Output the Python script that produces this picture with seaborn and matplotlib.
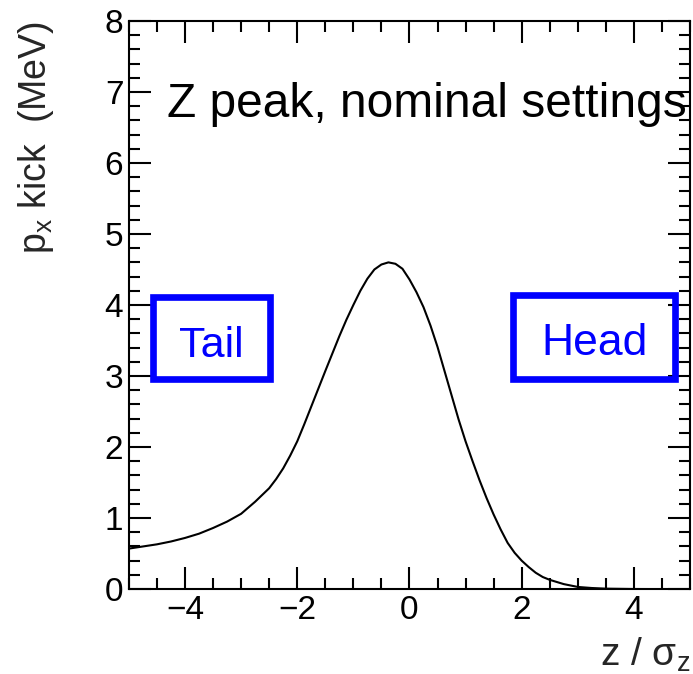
import numpy as np
import pandas as pd
import matplotlib
matplotlib.use("Agg")
import matplotlib.pyplot as plt
from matplotlib.patches import Rectangle
from matplotlib.ticker import MultipleLocator
import seaborn as sns

# values
z_sigma = [-5.0, -4.75, -4.5, -4.25, -4.0, -3.75, -3.5, -3.25, -3.0, -2.75,
           -2.5, -2.375, -2.25, -2.125, -2.0, -1.875, -1.75, -1.5, -1.25, -1.125,
           -1.0, -0.875, -0.75, -0.625, -0.5, -0.375, -0.25, -0.125, 0.0, 0.125,
           0.25, 0.375, 0.5, 0.625, 0.75, 0.875, 1.0, 1.125, 1.25, 1.375,
           1.5, 1.625, 1.75, 1.875, 2.0, 2.125, 2.25, 2.375, 2.5, 2.75,
           3.0, 3.25, 3.5, 4.0, 4.5, 5.0]
px_kick = [0.57, 0.60, 0.63, 0.67, 0.72, 0.78, 0.86, 0.95, 1.06, 1.23,
           1.42, 1.55, 1.70, 1.88, 2.08, 2.32, 2.57, 3.07, 3.56, 3.79,
           4.00, 4.20, 4.37, 4.50, 4.57, 4.60, 4.58, 4.51, 4.36, 4.18,
           3.97, 3.71, 3.41, 3.07, 2.73, 2.39, 2.08, 1.80, 1.53, 1.28,
           1.05, 0.84, 0.65, 0.51, 0.40, 0.31, 0.23, 0.17, 0.13, 0.07,
           0.03, 0.015, 0.006, 0.001, 0.0, 0.0]

xlim = (-5, 5)
ylim = (0, 8)

df = pd.DataFrame({"z": z_sigma, "kick": px_kick})

sns.set_theme(style="ticks")
plt.rcParams["font.family"] = ["Liberation Sans", "DejaVu Sans"]
plt.rcParams["mathtext.fontset"] = "custom"
plt.rcParams["mathtext.rm"] = "Liberation Sans"
plt.rcParams["mathtext.default"] = "regular"

fig = plt.figure(figsize=(6.93, 6.74), dpi=100)
ax = fig.add_axes([0.186, 0.126, 0.8097, 0.843])

sns.lineplot(data=df, x="z", y="kick", color="black", linewidth=1.5, ax=ax)

ax.set_xlim(*xlim)
ax.set_ylim(*ylim)
ax.xaxis.set_major_locator(MultipleLocator(2))
ax.xaxis.set_minor_locator(MultipleLocator(0.5))
ax.yaxis.set_major_locator(MultipleLocator(1))
ax.yaxis.set_minor_locator(MultipleLocator(0.2))

for s in ax.spines.values():
    s.set_visible(True)
    s.set_linewidth(1.5)
    s.set_color("black")

ax.tick_params(which="both", direction="in", top=True, right=True,
               width=1.5, color="black", labelsize=24, labelcolor="black")
ax.tick_params(which="major", length=16)
ax.tick_params(which="minor", length=8)
ax.tick_params(axis="y", pad=4)
ax.tick_params(axis="x", pad=4)

ax.set_ylabel("p$_x$ kick  (MeV)", fontsize=27, loc="top")
ax.yaxis.set_label_coords(-0.13, 1.0)
ax.set_xlabel("z / σ$_z$", fontsize=28, loc="right")
ax.xaxis.set_label_coords(1.0, -0.082)

ax.text(0.068, 0.831, "Z peak, nominal settings", transform=ax.transAxes,
        fontsize=34.5, va="baseline", ha="left", color="black")

blue = "#0000ff"
ax.add_patch(Rectangle((0.043, 0.37), 0.208, 0.144, transform=ax.transAxes,
                       fill=False, ec=blue, lw=4.8, zorder=5))
ax.add_patch(Rectangle((0.684, 0.37), 0.289, 0.147, transform=ax.transAxes,
                       fill=False, ec=blue, lw=4.8, zorder=5))
ax.text(0.146, 0.408, "Tail", transform=ax.transAxes, fontsize=31,
        ha="center", va="baseline", color=blue)
ax.text(0.829, 0.412, "Head", transform=ax.transAxes, fontsize=32,
        ha="center", va="baseline", color=blue)

fig.savefig("out.png", dpi=100)
